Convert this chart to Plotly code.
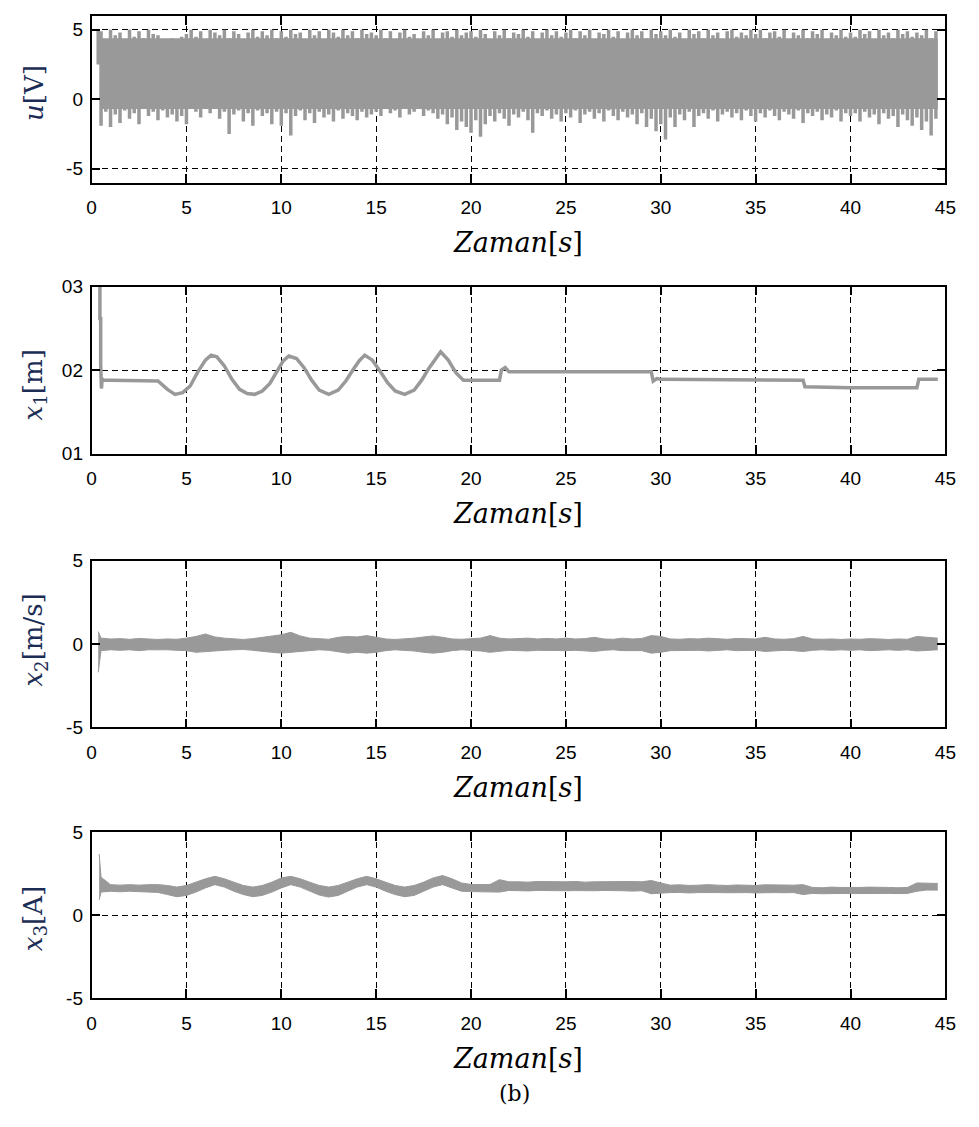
import numpy as np
import plotly.graph_objects as go

GRAY = '#999999'
YLAB = '#1c2d55'

t_ticks = [0, 5, 10, 15, 20, 25, 30, 35, 40, 45]
t_end = 44.6

# u[V] : dense part of the noisy control signal, then the peaks (high / low)
# read every 0.25 s from 0.5 s
u_core = (-0.7, 4.4)
u_first = (0.35, 5.0, 2.5)  # time, high, low of first transient sample
u_hi = [
    4.9, 4.3, 5.0, 4.6, 4.8, 4.2, 5.0, 4.5, 4.9, 4.4, 5.0, 4.7, 4.6, 4.1, 3.9, 4.4, 3.8, 4.5,
    4.7, 5.0, 4.5, 4.9, 4.3, 5.0, 4.8, 4.6, 5.0, 4.4, 4.9, 4.7, 4.0, 4.8, 5.0, 4.5, 4.9, 4.6, 5.0, 4.4,
    4.9, 4.5, 5.0, 4.7, 4.8, 4.3, 5.0, 4.6, 4.9, 4.2, 5.0, 4.8, 4.5, 5.0, 4.6, 4.9, 4.4, 5.0, 4.7, 4.8,
    4.6, 5.0, 4.4, 4.9, 3.9, 4.8, 5.0, 4.5, 4.7, 3.8, 4.9, 4.6, 5.0, 4.3, 4.8, 4.9, 4.5, 5.0, 4.6, 4.8,
    4.9, 4.5, 5.0, 4.7, 4.2, 4.9, 4.6, 5.0, 4.4, 4.8, 4.7, 5.0, 4.5, 4.9, 4.3, 4.8, 5.0, 4.6, 4.9, 4.5,
    4.8, 5.0, 4.4, 4.9, 4.6, 5.0, 4.3, 4.8, 4.7, 5.0, 4.5, 4.9, 4.2, 4.8, 5.0, 4.6, 4.9, 4.4, 5.0, 4.7,
    4.9, 4.6, 5.0, 4.5, 4.8, 4.3, 5.0, 4.7, 4.9, 4.4, 5.0, 4.6, 4.8, 4.2, 4.9, 5.0, 4.5, 4.8, 4.6, 5.0,
    4.7, 5.0, 4.4, 4.8, 4.9, 4.5, 5.0, 4.3, 4.8, 4.6, 5.0, 4.4, 4.9, 4.7, 5.0, 4.2, 4.8, 4.6, 5.0, 4.5,
    4.8, 4.5, 5.0, 4.7, 4.9, 4.3, 5.0, 4.6, 4.8, 4.4, 5.0, 4.7, 4.9, 4.5, 4.8, 4.6, 5.0, 4.4, 4.9,
]
u_lo = [
    -1.9, -0.9, -2.0, -1.1, -1.7, -0.8, -1.4, -1.0, -1.8, -0.7, -1.2, -0.9, -1.5, -0.8, -1.3, -1.1, -1.6, -1.2,
    -1.8, -0.6, -0.9, -1.3, -0.5, -1.0, -0.7, -1.4, -0.9, -2.5, -1.1, -0.8, -1.6, -1.0, -1.9, -0.8, -1.2, -1.0, -1.8, -0.9,
    -1.9, -1.0, -2.6, -1.2, -0.8, -1.5, -1.0, -1.7, -0.9, -1.3, -1.1, -1.6, -0.8, -1.4, -1.0, -1.2, -1.5, -0.9, -1.3, -1.1,
    -0.9, -1.2, -0.6, -1.0, -0.8, -1.3, -0.7, -1.1, -0.9, -0.7, -1.2, -0.8, -1.0, -1.4, -1.1, -1.8, -1.3, -2.2, -1.6, -2.0,
    -2.4, -1.5, -2.7, -1.8, -1.2, -1.6, -1.0, -1.4, -1.9, -1.1, -1.3, -0.9, -1.5, -2.4, -1.0, -1.2, -0.8, -1.4, -1.1, -1.6,
    -1.0, -1.3, -0.8, -1.7, -1.1, -0.9, -1.4, -1.0, -1.6, -0.8, -1.2, -1.5, -0.9, -1.3, -1.1, -1.8, -1.0, -2.0, -1.4, -2.3,
    -1.8, -2.9, -1.3, -2.0, -1.1, -1.5, -0.9, -2.0, -1.2, -1.0, -1.4, -0.8, -1.6, -1.1, -0.9, -1.3, -1.0, -1.5, -0.8, -1.2,
    -1.6, -1.0, -1.3, -0.8, -1.2, -1.5, -0.9, -1.1, -1.4, -0.8, -1.7, -1.0, -1.2, -0.9, -1.5, -1.1, -1.3, -0.8, -1.6, -1.0,
    -1.2, -1.0, -1.6, -0.9, -1.3, -1.1, -1.8, -1.0, -1.4, -1.2, -2.0, -1.1, -1.5, -1.9, -1.3, -2.2, -1.6, -2.6, -1.4,
]

# x1[m] : position, breakpoints (time, value)
x1_t = [0.4, 0.44, 0.44, 0.48, 0.48, 0.52, 0.56, 0.6, 1.0, 2.0, 3.0, 3.5, 4.0, 4.4, 4.8, 5.2, 5.6, 6.0,
        6.3, 6.6, 7.0, 7.4, 7.8, 8.2, 8.6, 9.0, 9.4, 9.8, 10.1, 10.4, 10.8, 11.2, 11.6, 12.0, 12.5,
        13.0, 13.4, 13.8, 14.1, 14.4, 14.8, 15.2, 15.6, 16.0, 16.5, 17.0, 17.4, 17.8, 18.1, 18.4,
        18.8, 19.2, 19.6, 20.0, 21.0, 21.5, 21.6, 21.8, 22.0, 25.0, 29.5, 29.6, 29.8, 30.0, 33.0,
        37.5, 37.6, 40.0, 43.5, 43.6, 44.6]
x1_v = [0.0300, 0.0300, 0.0262, 0.0262, 0.0207, 0.0178, 0.0190, 0.0188, 0.0188, 0.0188, 0.0188,
        0.0187, 0.0177, 0.0171, 0.0173, 0.0181, 0.0198, 0.0212, 0.0218, 0.0216, 0.0205, 0.0189,
        0.0177, 0.0172, 0.0171, 0.0175, 0.0184, 0.0199, 0.0211, 0.0217, 0.0214, 0.0203, 0.0188,
        0.0176, 0.0171, 0.0176, 0.0187, 0.0201, 0.0211, 0.0218, 0.0212, 0.0199, 0.0185, 0.0175,
        0.0171, 0.0176, 0.0188, 0.0203, 0.0213, 0.0222, 0.0212, 0.0197, 0.0188, 0.0188, 0.0188,
        0.0188, 0.0200, 0.0203, 0.0198, 0.0198, 0.0198, 0.0187, 0.0190, 0.0189, 0.0189, 0.0188,
        0.0180, 0.0179, 0.0179, 0.0189, 0.0189]

# x2[m/s] : envelope every 0.5 s from 0.5 s
x2_first = (0.35, 0.74, -1.7)
x2_hi = [
    0.35, 0.30, 0.32, 0.28, 0.33, 0.30, 0.27, 0.30, 0.28,
    0.35, 0.45, 0.60, 0.42, 0.35, 0.30, 0.27, 0.32, 0.40, 0.45,
    0.55, 0.70, 0.48, 0.35, 0.30, 0.28, 0.40, 0.45, 0.42, 0.50,
    0.40, 0.30, 0.27, 0.30, 0.35, 0.42, 0.48, 0.40, 0.30, 0.28,
    0.30, 0.35, 0.50, 0.35, 0.30, 0.33, 0.35, 0.30, 0.33, 0.30,
    0.35, 0.30, 0.32, 0.40, 0.30, 0.28, 0.35, 0.30, 0.33, 0.50,
    0.45, 0.30, 0.28, 0.32, 0.30, 0.35, 0.30, 0.28, 0.33, 0.30,
    0.30, 0.40, 0.30, 0.28, 0.32, 0.45, 0.30, 0.28, 0.30, 0.27,
    0.30, 0.28, 0.32, 0.30, 0.27, 0.30, 0.28, 0.45, 0.40, 0.35,
]
x2_lo = [
    -0.40, -0.35, -0.38, -0.35, -0.40, -0.35, -0.33, -0.35, -0.38,
    -0.40, -0.50, -0.45, -0.42, -0.38, -0.35, -0.33, -0.38, -0.42, -0.50,
    -0.55, -0.50, -0.45, -0.38, -0.35, -0.38, -0.45, -0.55, -0.50, -0.55,
    -0.50, -0.40, -0.35, -0.38, -0.42, -0.50, -0.55, -0.50, -0.40, -0.35,
    -0.38, -0.42, -0.50, -0.45, -0.38, -0.40, -0.42, -0.38, -0.40, -0.38,
    -0.40, -0.38, -0.42, -0.45, -0.38, -0.35, -0.40, -0.38, -0.40, -0.55,
    -0.50, -0.40, -0.38, -0.40, -0.38, -0.42, -0.38, -0.35, -0.40, -0.38,
    -0.38, -0.45, -0.40, -0.38, -0.40, -0.45, -0.38, -0.35, -0.38, -0.35,
    -0.38, -0.35, -0.40, -0.38, -0.35, -0.38, -0.35, -0.42, -0.38, -0.35,
]

# x3[A] : envelope every 0.5 s from 0.5 s
x3_first = (0.4, 3.7, 0.93)
x3_hi = [
    2.30, 1.85, 1.82, 1.85, 1.82, 1.85, 1.85, 1.80, 1.70,
    1.80, 2.00, 2.20, 2.35, 2.20, 2.00, 1.80, 1.70, 1.80, 2.00, 2.25, 2.35, 2.20, 2.00, 1.80, 1.70,
    1.80, 2.00, 2.20, 2.35, 2.20, 2.00, 1.80, 1.70, 1.80, 2.00, 2.25, 2.40, 2.20, 1.95, 1.86, 1.86,
    1.86, 2.15,
    2.02,
    2.02, 2.00, 2.04, 2.02, 2.00, 2.02, 2.04, 2.00, 2.02, 2.03, 2.00, 2.02, 2.04, 2.02,
    2.10, 1.95,
    1.82, 1.84, 1.80, 1.82, 1.85, 1.82, 1.80, 1.83, 1.82, 1.80, 1.84, 1.82, 1.80, 1.82,
    1.85,
    1.68, 1.66, 1.70, 1.68, 1.66, 1.68, 1.70, 1.67, 1.68, 1.66, 1.68,
    1.95, 1.92, 1.92,
]
x3_lo = [
    1.40, 1.45, 1.42, 1.45, 1.42, 1.42, 1.38, 1.25, 1.12,
    1.20, 1.40, 1.65, 1.85, 1.70, 1.45, 1.25, 1.12, 1.20, 1.40, 1.65, 1.85, 1.70, 1.45, 1.22, 1.10,
    1.20, 1.45, 1.70, 1.85, 1.70, 1.45, 1.25, 1.12, 1.20, 1.45, 1.70, 1.85, 1.65, 1.45, 1.43, 1.43,
    1.43, 1.40,
    1.50,
    1.48, 1.47, 1.50, 1.48, 1.46, 1.48, 1.49, 1.47, 1.48, 1.50, 1.47, 1.48, 1.46, 1.48,
    1.30, 1.35,
    1.37, 1.38, 1.35, 1.37, 1.39, 1.37, 1.36, 1.38, 1.37, 1.35, 1.38, 1.37, 1.36, 1.37,
    1.25,
    1.32, 1.30, 1.33, 1.32, 1.31, 1.32, 1.33, 1.30, 1.32, 1.31, 1.32,
    1.45, 1.52, 1.52,
]

ylabels = ['<i>u</i>[V]', '<i>x</i><sub>1</sub>[m]', '<i>x</i><sub>2</sub>[m/s]', '<i>x</i><sub>3</sub>[A]']
y_ranges = [[-6, 6], [0.01, 0.03], [-5, 5], [-5, 5]]
y_tickvals = [[-5, 0, 5], [0.01, 0.02, 0.03], [-5, 0, 5], [-5, 0, 5]]
y_ticktext = [['-5', '0', '5'], ['01', '02', '03'], ['-5', '0', '5'], ['-5', '0', '5']]
xlabel = '<i>Zaman</i>[<i>s</i>]'

W, H = 979, 1127
left, right = 88, 956
panels = [(6, 176), (282, 452), (561, 731), (838, 1007)]
ylab_centres = [85, 382, 642, 926]


def sample_times(first, n, dt):
    return [first[0]] + [round(0.5 + k * dt, 3) for k in range(n)]


def env_trace(first, hi, lo, dt, xa, ya):
    t = sample_times(first, len(hi), dt) + [t_end]
    h = [first[1]] + hi + [hi[-1]]
    l = [first[2]] + lo + [lo[-1]]
    common = dict(x=t, mode='lines', line=dict(color=GRAY, width=1),
                  xaxis=xa, yaxis=ya, showlegend=False, hoverinfo='skip')
    return [go.Scatter(y=l, **common),
            go.Scatter(y=h, fill='tonexty', fillcolor=GRAY, **common)]


fig = go.Figure()

# u : solid core + one vertical stroke per sample from its low to its high peak
t_u = sample_times(u_first, len(u_hi), 0.25)
fig.add_trace(go.Scatter(x=[t_u[1], t_end, t_end, t_u[1], t_u[1]],
                         y=[u_core[0], u_core[0], u_core[1], u_core[1], u_core[0]],
                         mode='lines', fill='toself', fillcolor=GRAY, line=dict(color=GRAY, width=0),
                         showlegend=False, hoverinfo='skip'))
sx, sy = [], []
for t, h, l in zip(t_u, [u_first[1]] + u_hi, [u_first[2]] + u_lo):
    sx += [t, t, None]
    sy += [l, h, None]
fig.add_trace(go.Scatter(x=sx, y=sy, mode='lines', line=dict(color=GRAY, width=3.5),
                         showlegend=False, hoverinfo='skip'))

fig.add_trace(go.Scatter(x=x1_t, y=x1_v, mode='lines', line=dict(color=GRAY, width=3.5),
                         xaxis='x2', yaxis='y2', showlegend=False, hoverinfo='skip'))
for tr in env_trace(x2_first, x2_hi, x2_lo, 0.5, 'x3', 'y3'):
    fig.add_trace(tr)
for tr in env_trace(x3_first, x3_hi, x3_lo, 0.5, 'x4', 'y4'):
    fig.add_trace(tr)

axis_common = dict(showline=True, linecolor='black', linewidth=1.5, mirror='ticks',
                   ticks='inside', ticklen=9, tickcolor='black', tickwidth=1.5,
                   showgrid=True, gridcolor='black', gridwidth=1, griddash='6px,4px',
                   zeroline=False, tickfont=dict(family='Liberation Sans, Arial', size=19, color='black'))

annotations = []
for i, (top, bot) in enumerate(panels):
    n = '' if i == 0 else str(i + 1)
    fig.layout['xaxis' + n] = dict(axis_common, domain=[left / W, right / W], range=[0, 45],
                                   tickvals=t_ticks, anchor='y' + n, ticklabelstandoff=7)
    fig.layout['yaxis' + n] = dict(axis_common, domain=[1 - bot / H, 1 - top / H], range=y_ranges[i],
                                   tickvals=y_tickvals[i], ticktext=y_ticktext[i], anchor='x' + n,
                                   ticklabelstandoff=3)
    annotations.append(dict(text=xlabel, x=(left + right) / 2 / W, y=1 - (bot + 61) / H,
                            xanchor='center', yanchor='middle',
                            xref='paper', yref='paper', showarrow=False,
                            font=dict(family='DejaVu Serif', size=27, color='black')))
    annotations.append(dict(text=ylabels[i], x=30 / W, y=1 - ylab_centres[i] / H, textangle=-90,
                            xanchor='center', yanchor='middle',
                            xref='paper', yref='paper', showarrow=False,
                            font=dict(family='DejaVu Serif', size=26, color=YLAB)))

annotations.append(dict(text='(b)', x=518 / W, y=1 - 1104 / H, xref='paper', yref='paper',
                        xanchor='center', yanchor='middle',
                        showarrow=False, font=dict(family='DejaVu Serif', size=22, color='black')))

fig.update_layout(width=W, height=H, margin=dict(l=0, r=0, t=0, b=0),
                  paper_bgcolor='white', plot_bgcolor='white', annotations=annotations)

fig.write_html('out.html', config={'displayModeBar': False},
               post_script="document.body.style.margin='0';document.body.style.overflow='hidden';")
